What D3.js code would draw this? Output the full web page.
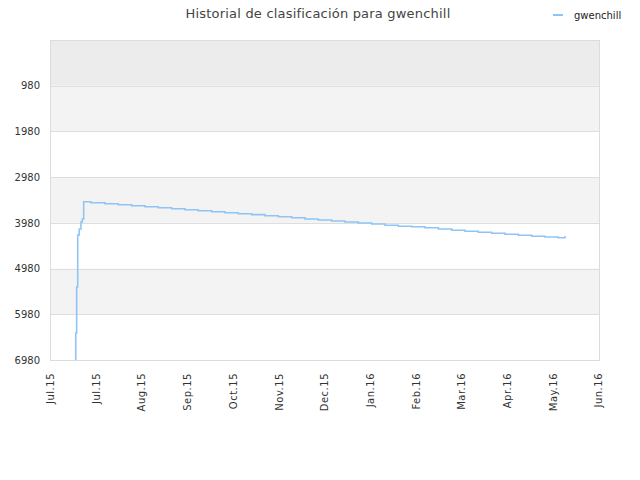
<!DOCTYPE html>
<html>
<head>
<meta charset="utf-8">
<script src="https://cdn.jsdelivr.net/npm/d3@7"></script>
<style>
  body { margin: 0; background: #fff; }
  svg { display: block; font-family: "DejaVu Sans", sans-serif; }
</style>
</head>
<body>
<div id="chart"></div>
<script>
const WIDTH = 640;
const HEIGHT = 480;
const MARGIN = {top: 40, right: 40, bottom: 120, left: 50};

// days counted from 1 Jul 2015, ticks every 30 days
const tickDays = [0, 30, 60, 90, 120, 150, 180, 210, 240, 270, 300, 330, 360];
const tickLabels = ['Jul.15', 'Jul.15', 'Aug.15', 'Sep.15', 'Oct.15', 'Nov.15', 'Dec.15',
    'Jan.16', 'Feb.16', 'Mar.16', 'Apr.16', 'May.16', 'Jun.16'];
const rankTicks = [980, 1980, 2980, 3980, 4980, 5980, 6980];

const days = [16.9, 16.9, 17.5, 18.2, 19.2, 20.3, 21.2, 22.1,
    26.9, 36.1, 44.8, 53.6, 62.4, 71.1, 79.9, 88.6, 97.3, 106.1,
    114.9, 123.6, 132.4, 141.1, 149.9, 158.6, 167.4, 176.1, 184.9, 193.6,
    202.4, 211.2, 219.9, 228.6, 237.4, 246.1, 254.9, 263.7, 272.4, 281.1,
    289.9, 298.7, 307.4, 316.2, 324.9, 333.6, 338.0];
const ranks = [6980, 6389, 5383, 4246, 4114, 3961, 3896, 3519,
    3541, 3563, 3585, 3607, 3629, 3651, 3673, 3694, 3716, 3738,
    3760, 3782, 3801, 3823, 3845, 3867, 3896, 3918, 3939, 3961,
    3983, 4005, 4033, 4055, 4064, 4086, 4114, 4143, 4165, 4187,
    4208, 4230, 4252, 4274, 4289, 4305, 4270];

const playerName = 'gwenchill';
const title = 'Historial de clasificación para ' + playerName;

const x = d3.scaleLinear()
    .domain([0, 361])
    .range([MARGIN.left, WIDTH - MARGIN.right]);
const y = d3.scaleLinear()
    .domain([-20, 6980])
    .range([MARGIN.top, HEIGHT - MARGIN.bottom]);

const svg = d3.select('#chart').append('svg')
    .attr('width', WIDTH)
    .attr('height', HEIGHT);

// alternating bands between the grid lines
const bandEdges = [-20].concat(rankTicks);
const bandFill = ['#ececec', '#f3f3f3', '#ffffff', '#f3f3f3', '#ffffff', '#f3f3f3', '#ffffff'];
svg.append('g')
    .selectAll('rect')
    .data(d3.pairs(bandEdges))
    .join('rect')
    .attr('x', x(0))
    .attr('width', x(361) - x(0))
    .attr('y', d => y(d[0]))
    .attr('height', d => y(d[1]) - y(d[0]))
    .attr('fill', (d, i) => bandFill[i]);

svg.append('g')
    .attr('stroke', '#dedede')
    .selectAll('line')
    .data(rankTicks)
    .join('line')
    .attr('x1', x(0))
    .attr('x2', x(361))
    .attr('y1', d => Math.round(y(d)) + 0.5)
    .attr('y2', d => Math.round(y(d)) + 0.5);

svg.append('rect')
    .attr('x', x(0) + 0.5)
    .attr('y', y(-20) + 0.5)
    .attr('width', x(361) - x(0) - 1)
    .attr('height', y(6980) - y(-20))
    .attr('fill', 'none')
    .attr('stroke', '#dcdcdc');

// y axis labels
const yAxis = d3.axisLeft(y)
    .tickValues(rankTicks)
    .tickSize(0)
    .tickPadding(10)
    .tickFormat(d3.format('d'));
svg.append('g')
    .attr('transform', `translate(${x(0)},0)`)
    .call(yAxis)
    .call(g => g.select('.domain').remove())
    .selectAll('text')
    .attr('fill', '#333')
    .style('font-size', '10px')
    .style('font-family', '"DejaVu Sans", sans-serif');

// x axis labels, rotated
const xAxis = d3.axisBottom(x)
    .tickValues(tickDays)
    .tickSize(0)
    .tickFormat((d, i) => tickLabels[i]);
svg.append('g')
    .attr('transform', `translate(0,${y(6980)})`)
    .call(xAxis)
    .call(g => g.select('.domain').remove())
    .selectAll('text')
    .attr('fill', '#333')
    .style('font-size', '10px')
    .style('letter-spacing', '0.5px')
    .style('font-family', '"DejaVu Sans", sans-serif')
    .attr('text-anchor', 'end')
    .attr('transform', 'translate(0,13) rotate(-90)')
    .attr('x', 0)
    .attr('y', 0)
    .attr('dy', '0.35em');

svg.append('clipPath')
    .attr('id', 'plot-clip')
    .append('rect')
    .attr('x', x(0))
    .attr('y', y(-20))
    .attr('width', x(361) - x(0))
    .attr('height', y(6980) - y(-20) + 1);

const line = d3.line()
    .x(i => x(days[i]))
    .y(i => y(ranks[i]))
    .curve(d3.curveStepAfter);

svg.append('path')
    .datum(d3.range(days.length))
    .attr('clip-path', 'url(#plot-clip)')
    .attr('fill', 'none')
    .attr('stroke', '#90c4f5')
    .attr('stroke-width', 1.6)
    .attr('d', line);

// title
svg.append('text')
    .attr('x', 318)
    .attr('y', 18)
    .attr('text-anchor', 'middle')
    .attr('fill', '#444')
    .style('font-size', '13px')
    .style('letter-spacing', '0.2px')
    .text(title);

// legend
const legend = svg.append('g').attr('transform', 'translate(553,15)');
legend.append('line')
    .attr('x1', 0)
    .attr('x2', 10)
    .attr('stroke', '#90c4f5')
    .attr('stroke-width', 2);
legend.append('text')
    .attr('x', 21)
    .attr('y', 3.5)
    .attr('fill', '#222')
    .style('font-size', '10px')
    .text(playerName);
</script>
</body>
</html>
